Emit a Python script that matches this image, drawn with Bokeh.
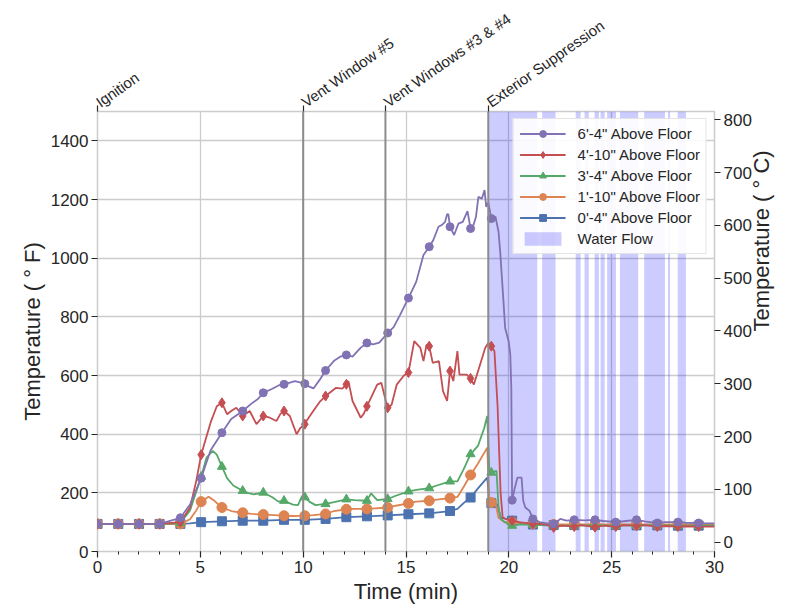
import math
from bokeh.plotting import figure
from bokeh.models import (Range1d, LinearAxis, SingleIntervalTicker, FixedTicker,
                          Legend, LegendItem, Span, ColumnDataSource)
from bokeh.embed import file_html
from bokeh.resources import INLINE

# ---------------- data ----------------
event_times = [0, 10, 14, 19]
event_labels = ["Ignition", "Vent Window #5", "Vent Windows #3 & #4", "Exterior Suppression"]

flow_start = [19.0, 21.62, 23.25, 23.68, 24.17, 24.46, 24.78, 25.40, 26.58, 27.74, 28.21]
flow_end = [21.38, 22.27, 23.49, 23.89, 24.38, 24.66, 25.21, 26.29, 27.59, 27.84, 28.61]

marker_times = [0.0, 1.01, 2.02, 3.02, 4.03, 5.04, 6.05, 7.06, 8.06, 9.07, 10.08, 11.09,
                12.1, 13.1, 14.11, 15.12, 16.13, 17.14, 18.14, 19.15, 20.16, 21.17, 22.18,
                23.18, 24.19, 25.2, 26.21, 27.22, 28.22, 29.23]

# 6'-4" above floor (deg F)
f64_marks = [94, 94, 94, 94, 115, 250, 405, 479, 541, 570, 572, 617, 670, 711, 745, 864,
             1039, 1107, 1101, 1135, 175, 111, 94, 108, 108, 100, 108, 97, 100, 97]
f64_t = [4.5, 5.5, 6.5, 7.5, 7.8, 8.5, 8.8, 9.6, 10.3, 10.5, 10.8, 11.5, 11.8, 12.4, 12.8,
         13.4, 13.7, 14.4, 14.7, 15.5, 15.77, 15.85, 16.33, 16.58, 16.74, 16.9, 17.0, 17.06,
         17.34, 17.55, 17.76, 17.99, 18.28, 18.4, 18.52, 18.69, 18.82, 18.9, 19.0, 19.35,
         19.5, 19.58, 19.74, 19.82, 19.99, 20.07, 20.12, 20.3, 20.42, 20.62, 20.7, 20.8, 21.0,
         21.5, 22.0, 22.5, 22.8, 23.7, 24.6, 25.7, 26.6, 27.6, 28.6, 30.0]
f64_v = [160, 345, 452, 505, 520, 555, 566, 581, 562, 556, 585, 650, 664, 664, 695,
         706, 712, 765, 805, 920, 990, 1011, 1062, 1107, 1113, 1124, 1150, 1149,
         1079, 1118, 1124, 1160, 1113, 1140, 1209, 1203, 1232, 1175, 1190, 1141,
         1090, 1022, 852, 762, 717, 672, 560, 220, 252, 252, 173, 150, 139,
         100, 94, 111, 105, 106, 104, 104, 103, 100, 98, 96]

# 4'-10" above floor
f410_marks = [94, 94, 94, 94, 100, 330, 507, 462, 462, 479, 434, 530, 570, 495, 490, 610,
              700, 615, 590, 700, 105, 94, 82, 85, 83, 85, 88, 85, 85, 85]
f410_t = [4.5, 4.8, 5.5, 5.8, 6.3, 6.5, 6.75, 7.4, 7.73, 8.38, 8.7, 8.9, 9.35, 9.68, 9.85,
          10.16, 10.5, 10.8, 11.6, 11.9, 12.2, 12.4, 12.8, 12.95, 13.6, 13.8, 14.06, 14.3,
          14.55, 14.9, 15.4, 15.7, 15.85, 16.0, 16.3, 16.6, 16.8, 17.0, 17.3, 17.5, 17.6,
          17.95, 18.3, 18.6, 18.85, 19.0, 19.3, 19.45, 19.6, 19.7, 19.9, 20.5, 21.5, 21.9,
          22.6, 23.5, 24.6, 25.6, 26.6, 27.6, 28.6, 30.0]
f410_v = [150, 240, 440, 495, 468, 479, 490, 479, 434, 456, 445, 470, 462, 400, 420,
          445, 480, 510, 558, 555, 581, 513, 456, 470, 569, 575, 501, 500,
          569, 600, 717, 694, 649, 705, 643, 649, 547, 513, 581, 683, 603,
          603, 569, 637, 694, 711, 683, 500, 200, 116, 110, 100, 95, 90,
          88, 90, 88, 90, 90, 87, 86, 85]

# 3'-4" above floor
f34_marks = [94, 94, 94, 94, 97, 255, 289, 207, 201, 173, 185, 162, 178, 173, 179, 205,
             216, 239, 332, 269, 88, 92, 88, 88, 90, 88, 90, 90, 88, 88]
f34_t = [4.5, 5.3, 5.6, 5.8, 6.3, 6.6, 7.3, 7.6, 8.5, 8.8, 9.5, 9.75, 9.95, 10.3, 10.6,
         11.5, 12.5, 13.3, 13.6, 14.5, 15.5, 16.5, 17.5, 17.8, 18.5, 18.8, 18.95, 19.05,
         19.4, 19.5, 19.6, 19.8, 20.5, 21.5, 30.0]
f34_v = [140, 320, 343, 330, 250, 225, 200, 195, 185, 170, 160, 158, 190, 170, 158,
         168, 175, 198, 175, 190, 210, 225, 239, 280, 360, 420, 462, 280,
         275, 150, 112, 100, 92, 90, 88]

# 1'-10" above floor
f110_marks = [94, 94, 94, 94, 94, 170, 150, 132, 126, 122, 122, 128, 144, 145, 150, 164,
              173, 182, 261, 167, 100, 95, 92, 92, 92, 92, 92, 92, 92, 92]
f110_t = [4.5, 4.8, 5.4, 5.7, 6.5, 7.5, 9.5, 10.5, 11.5, 12.5, 13.5, 14.5, 15.5, 16.5,
          17.5, 17.8, 18.5, 18.95, 19.05, 19.35, 19.5, 19.8, 30.0]
f110_v = [110, 140, 187, 172, 138, 128, 121, 124, 138, 145, 147, 156, 170, 177,
          186, 220, 300, 354, 172, 165, 115, 100, 92]

# 0'-4" above floor
f04_marks = [94, 94, 94, 94, 94, 100, 103, 105, 105, 108, 108, 111, 117, 120, 123, 127,
             130, 138, 184, 165, 105, 92, 90, 90, 90, 90, 89, 89, 88, 88]
f04_t = [4.5, 17.5, 17.8, 18.5, 18.95, 19.05, 19.45, 19.6, 20.5, 30.0]
f04_v = [96, 145, 165, 215, 252, 168, 160, 116, 98, 88]

series = [
    ("6'-4\" Above Floor", f64_marks, f64_t, f64_v, "#8172B3", "circle", 8),
    ("4'-10\" Above Floor", f410_marks, f410_t, f410_v, "#C44E52", "diamond", 10),
    ("3'-4\" Above Floor", f34_marks, f34_t, f34_v, "#55A868", "triangle", 9),
    ("1'-10\" Above Floor", f110_marks, f110_t, f110_v, "#DD8452", "circle", 10),
    ("0'-4\" Above Floor", f04_marks, f04_t, f04_v, "#4C72B0", "square", 9),
]

# ---------------- figure ----------------
FONT = "Liberation Sans"
p = figure(width=790, height=609, x_range=Range1d(0, 30), y_range=Range1d(0, 1500),
           output_backend="svg", toolbar_location=None,
           min_border_left=97, min_border_right=76, min_border_top=108, min_border_bottom=58)
p.extra_y_ranges = {"C": Range1d((0 - 32) / 1.8, (1500 - 32) / 1.8)}
p.background_fill_color = "white"
p.outline_line_color = "#cccccc"
p.outline_line_width = 1.5

xb = p.xaxis[0]
xb.ticker = SingleIntervalTicker(interval=5, num_minor_ticks=5)
yl = p.yaxis[0]
yl.ticker = SingleIntervalTicker(interval=200, num_minor_ticks=0)
xb.axis_label = "Time (min)"
yl.axis_label = "Temperature ( \u00b0 F)"

yr = LinearAxis(y_range_name="C", axis_label="Temperature ( \u00b0 C)",
                ticker=SingleIntervalTicker(interval=100, num_minor_ticks=0))
p.add_layout(yr, "right")

xt = LinearAxis(ticker=FixedTicker(ticks=event_times),
                major_label_overrides={t: lab for t, lab in zip(event_times, event_labels)},
                major_label_orientation=math.radians(35))
p.add_layout(xt, "above")

for ax in [xb, yl, yr, xt]:
    ax.axis_line_color = None
    ax.major_tick_line_color = "#262626"
    ax.major_tick_line_width = 1.2
    ax.major_tick_in = 0
    ax.major_tick_out = 6
    ax.minor_tick_line_color = "#262626"
    ax.minor_tick_in = 0
    ax.minor_tick_out = 3
    ax.major_label_text_font = FONT
    ax.major_label_text_font_size = "17px"
    ax.major_label_text_color = "#262626"
    ax.major_label_standoff = 3
    ax.axis_label_standoff = 3
    ax.axis_label_text_font = FONT
    ax.axis_label_text_font_size = "22px"
    ax.axis_label_text_font_style = "normal"
    ax.axis_label_text_color = "#262626"
xt.major_label_text_font_size = "15px"
xt.major_label_standoff = 2
# right title reads bottom-to-top, like the left one
yr.axis_label_orientation = math.pi / 2
yr.axis_label_standoff = 7

p.xgrid.ticker = xb.ticker
p.xgrid.grid_line_color = "#cccccc"
p.xgrid.grid_line_width = 1.3
p.ygrid.grid_line_color = "#cccccc"
p.ygrid.grid_line_width = 1.3

# water flow bands
flow_src = ColumnDataSource(dict(left=flow_start, right=flow_end))
flow_r = p.quad(left="left", right="right", bottom=0, top=1500, source=flow_src,
                fill_color="#0000ff", fill_alpha=0.2, line_color=None)

# event lines
for t in event_times:
    if t > 0:
        p.add_layout(Span(location=t, dimension="height", line_color="#8c8c8c",
                          line_width=2, level="glyph"))

items = []
for name, marks, dt, dv, color, marker, size in reversed(series):
    pts = sorted(list(zip(marker_times, marks)) + list(zip(dt, dv)))
    lt = [a for a, b in pts]
    lv = [b for a, b in pts]
    lr = p.line(lt, lv, line_color=color, line_width=1.8)
    sr = p.scatter(marker_times, marks, marker=marker, size=size, fill_color=color,
                   line_color=color)
    items.append((name, [lr, sr]))

legend_items = [LegendItem(label=n, renderers=r) for n, r in reversed(items)]
legend_items.append(LegendItem(label="Water Flow", renderers=[flow_r]))
legend = Legend(items=legend_items, location="top_right")
legend.label_text_font = FONT
legend.label_text_font_size = "15px"
legend.label_text_color = "#262626"
legend.glyph_width = 46
legend.glyph_height = 17
legend.label_height = 17
legend.spacing = 4
legend.padding = 6
legend.margin = 7
legend.label_standoff = 12
legend.border_line_color = "#cccccc"
legend.border_line_width = 1
legend.background_fill_alpha = 0.9
p.add_layout(legend)

open("out.html", "w").write(file_html(p, INLINE))
